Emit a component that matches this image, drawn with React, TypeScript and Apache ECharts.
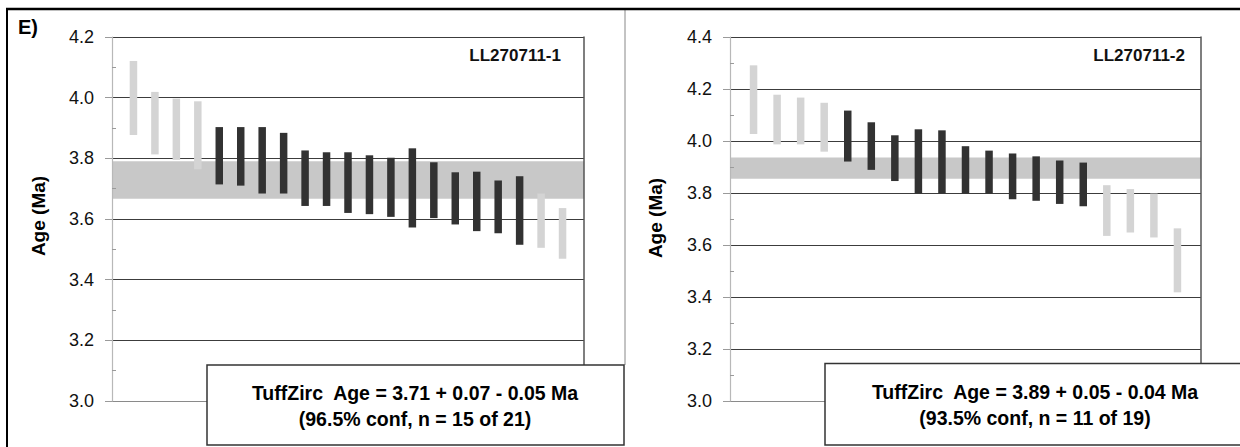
import React, { useEffect, useRef } from "react";
import * as echarts from "echarts";

// ---- Data: sample LL270711-1 (grain ranges, Ma) ----
const leftHigh = [4.121, 4.019, 3.997, 3.988, 3.903, 3.903, 3.903, 3.884, 3.826, 3.82, 3.82, 3.81, 3.802, 3.833, 3.787, 3.754, 3.756, 3.727, 3.741, 3.684, 3.636];
const leftLow = [3.877, 3.813, 3.795, 3.764, 3.714, 3.71, 3.684, 3.684, 3.643, 3.643, 3.62, 3.616, 3.607, 3.572, 3.603, 3.582, 3.56, 3.553, 3.515, 3.505, 3.469];
const leftUsed = [0, 0, 0, 0, 1, 1, 1, 1, 1, 1, 1, 1, 1, 1, 1, 1, 1, 1, 1, 0, 0];
const leftBand = [3.667, 3.79];

// ---- Data: sample LL270711-2 ----
const rightHigh = [4.291, 4.178, 4.167, 4.147, 4.117, 4.072, 4.022, 4.045, 4.041, 3.98, 3.963, 3.952, 3.941, 3.925, 3.917, 3.83, 3.815, 3.798, 3.664];
const rightLow = [4.027, 3.987, 3.987, 3.959, 3.921, 3.889, 3.846, 3.798, 3.798, 3.798, 3.798, 3.776, 3.77, 3.758, 3.749, 3.635, 3.648, 3.629, 3.418];
const rightUsed = [0, 0, 0, 0, 1, 1, 1, 1, 1, 1, 1, 1, 1, 1, 1, 0, 0, 0, 0];
const rightBand = [3.855, 3.937];

// ---- Axis settings / labels ----
const leftAxisRange = [3.0, 4.2];
const rightAxisRange = [3.0, 4.4];
const tickStep = 0.2;
const sampleNames = ["LL270711-1", "LL270711-2"];
const boxLine1 = ["TuffZirc  Age = 3.71 + 0.07 - 0.05 Ma", "TuffZirc  Age = 3.89 + 0.05 - 0.04 Ma"];
const boxLine2 = ["(96.5% conf, n = 15 of 21)", "(93.5% conf, n = 11 of 19)"];
const axisTitle = "Age (Ma)";
const panelLabel = "E)";

const FONT = "Arial, 'Liberation Sans', sans-serif";
const DARK = "#323232";
const LIGHT = "#d4d4d4";
const BAND = "#c8c8c8";

function buildData(low: number[], high: number[], used: number[]) {
  return low.map((lo, i) => [i + 1, lo, high[i], used[i]]);
}

function barSeries(gridIdx: number, low: number[], high: number[], used: number[]) {
  return {
    type: "custom",
    xAxisIndex: gridIdx,
    yAxisIndex: gridIdx * 3,
    z: 5,
    silent: true,
    data: buildData(low, high, used),
    renderItem: (params: any, api: any) => {
      const x = api.value(0);
      const lo = api.value(1);
      const hi = api.value(2);
      const u = api.value(3);
      const p1 = api.coord([x, hi]);
      const p2 = api.coord([x, lo]);
      const w = 7.5;
      return {
        type: "rect",
        shape: { x: p1[0] - w / 2, y: p1[1], width: w, height: p2[1] - p1[1] },
        style: { fill: u ? DARK : LIGHT },
      };
    },
  };
}

function bandSeries(gridIdx: number, band: number[]) {
  return {
    type: "line",
    xAxisIndex: gridIdx,
    yAxisIndex: gridIdx * 3,
    z: 2,
    silent: true,
    data: [],
    markArea: {
      silent: true,
      itemStyle: { color: BAND, opacity: 1 },
      data: [[{ yAxis: band[0] }, { yAxis: band[1] }]],
    },
  };
}

function yAxes(gridIdx: number, range: number[]) {
  return [
    {
      gridIndex: gridIdx,
      type: "value",
      position: "left",
      min: range[0],
      max: range[1],
      interval: tickStep,
      axisLine: { show: true, lineStyle: { color: "#b8b8b8", width: 1.2 } },
      axisTick: { show: true, length: 7, lineStyle: { color: "#9a9a9a" } },
      axisLabel: {
        fontSize: 18,
        color: "#111",
        fontFamily: FONT,
        margin: 18,
        formatter: (v: number) => v.toFixed(1),
      },
      splitLine: { show: true, showMinLine: false, lineStyle: { color: "#3c3c3c", width: 1.2 } },
      z: 1,
    },
    {
      gridIndex: gridIdx,
      type: "value",
      position: "left",
      min: range[0],
      max: range[1],
      interval: tickStep,
      axisLine: { show: false },
      axisTick: { show: false, inside: true },
      minorTick: { show: true, splitNumber: 2, length: 4, lineStyle: { color: "#9a9a9a" } },
      axisLabel: { show: false },
      splitLine: { show: false },
      z: 1,
    },
    {
      gridIndex: gridIdx,
      type: "value",
      position: "right",
      min: range[0],
      max: range[1],
      interval: tickStep,
      axisLine: { show: true, lineStyle: { color: "#555", width: 1.5 } },
      axisTick: { show: false },
      axisLabel: { show: false },
      splitLine: { show: false },
      z: 1,
    },
  ];
}

function xAxis(gridIdx: number, max: number) {
  return {
    gridIndex: gridIdx,
    type: "value",
    min: 0,
    max,
    axisLine: { show: true, onZero: false, lineStyle: { color: "#8a8a8a", width: 1.2 } },
    axisTick: { show: false },
    axisLabel: { show: false },
    splitLine: { show: false },
  };
}

function textBox(left: number, top: number, width: number, height: number, cx: number, l1: string, l2: string) {
  return [
    {
      type: "rect",
      z: 20,
      shape: { x: left, y: top, width, height },
      style: { fill: "#fff", stroke: "#333", lineWidth: 1.5 },
    },
    {
      type: "text",
      z: 21,
      x: cx,
      y: top + 28,
      style: { text: l1, font: `bold 19.5px ${FONT}`, fill: "#000", align: "center", verticalAlign: "middle" },
    },
    {
      type: "text",
      z: 21,
      x: cx,
      y: top + 54,
      style: { text: l2, font: `bold 19.5px ${FONT}`, fill: "#000", align: "center", verticalAlign: "middle" },
    },
  ];
}

export default function App() {
  const ref = useRef<HTMLDivElement>(null);

  useEffect(() => {
    if (!ref.current) return;
    const chart = echarts.init(ref.current, undefined, { renderer: "svg" });
    const option: any = {
      animation: false,
      backgroundColor: "#fff",
      grid: [
        { left: 112, top: 37, width: 472, height: 364 },
        { left: 730, top: 37, width: 471, height: 364 },
      ],
      xAxis: [xAxis(0, leftHigh.length + 1), xAxis(1, rightHigh.length + 1)],
      yAxis: [...yAxes(0, leftAxisRange), ...yAxes(1, rightAxisRange)],
      series: [
        bandSeries(0, leftBand),
        barSeries(0, leftLow, leftHigh, leftUsed),
        bandSeries(1, rightBand),
        barSeries(1, rightLow, rightHigh, rightUsed),
      ],
      graphic: [
        // outer frame
        { type: "line", z: 30, shape: { x1: 6, y1: 9, x2: 1240, y2: 9 }, style: { stroke: "#000", lineWidth: 2.5 } },
        { type: "line", z: 30, shape: { x1: 7, y1: 8, x2: 7, y2: 447 }, style: { stroke: "#000", lineWidth: 2 } },
        { type: "line", z: 10, shape: { x1: 625, y1: 10, x2: 625, y2: 365 }, style: { stroke: "#888", lineWidth: 1 } },
        {
          type: "text",
          z: 30,
          x: 18,
          y: 27,
          style: { text: panelLabel, font: `bold 20px ${FONT}`, fill: "#000", align: "left", verticalAlign: "middle" },
        },
        // axis titles
        {
          type: "text",
          z: 30,
          x: 38,
          y: 216,
          rotation: Math.PI / 2,
          style: { text: axisTitle, font: `bold 19px ${FONT}`, fill: "#000", align: "center", verticalAlign: "middle" },
        },
        {
          type: "text",
          z: 30,
          x: 655,
          y: 218,
          rotation: Math.PI / 2,
          style: { text: axisTitle, font: `bold 19px ${FONT}`, fill: "#000", align: "center", verticalAlign: "middle" },
        },
        // sample names
        {
          type: "text",
          z: 30,
          x: 561,
          y: 55,
          style: { text: sampleNames[0], font: `bold 17px ${FONT}`, fill: "#111", align: "right", verticalAlign: "middle" },
        },
        {
          type: "text",
          z: 30,
          x: 1185,
          y: 55,
          style: { text: sampleNames[1], font: `bold 17px ${FONT}`, fill: "#111", align: "right", verticalAlign: "middle" },
        },
        ...textBox(207, 365, 417, 80, 415, boxLine1[0], boxLine2[0]),
        ...textBox(825, 363.5, 425, 81.5, 1035, boxLine1[1], boxLine2[1]),
      ],
    };
    chart.setOption(option);
    return () => chart.dispose();
  }, []);

  return (
    <div
      ref={ref}
      style={{ position: "fixed", left: 0, top: 0, width: 1240, height: 447, background: "#fff" }}
    />
  );
}
